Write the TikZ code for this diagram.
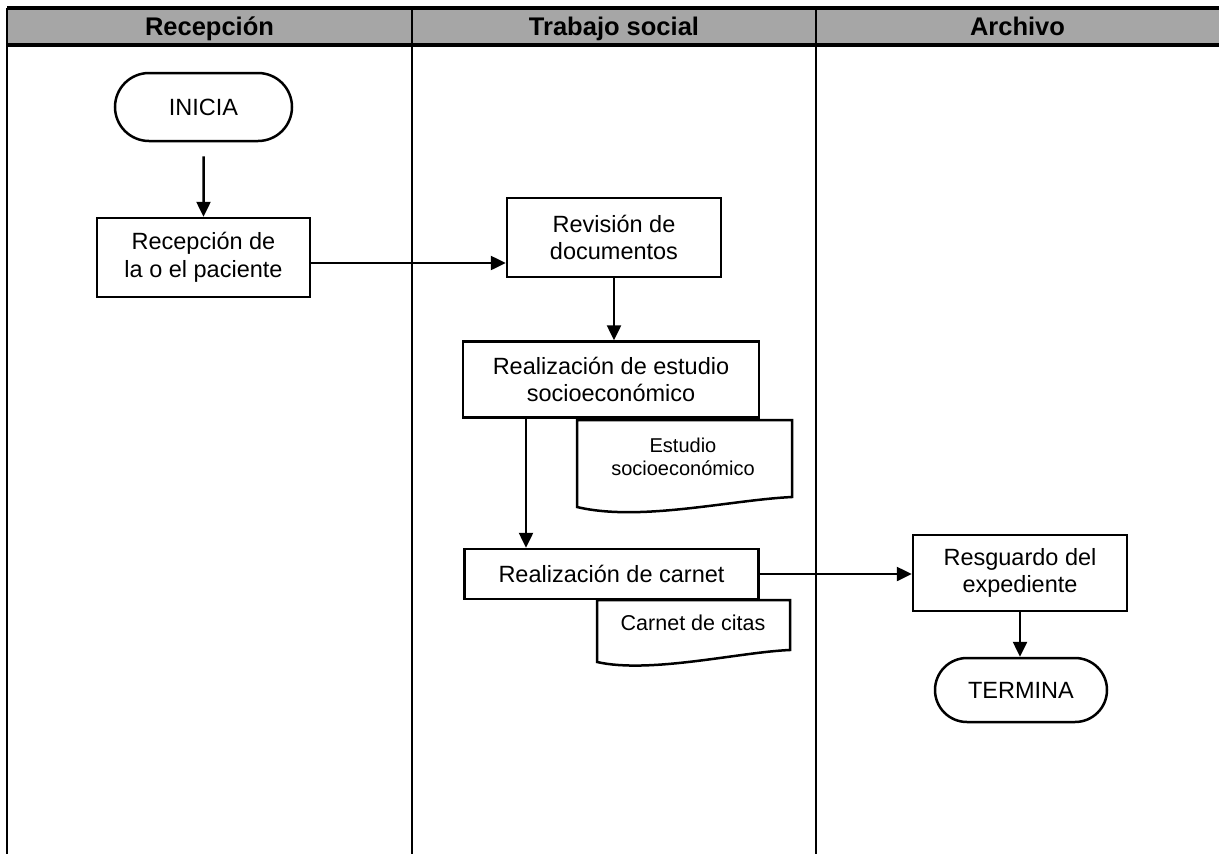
\documentclass[tikz,border=0pt]{standalone}
\usepackage{fontspec}
\setmainfont{Liberation Sans}
\usetikzlibrary{arrows.meta,shapes.misc}
\definecolor{headgray}{RGB}{166,166,166}
\begin{document}
\begin{tikzpicture}[x=1pt,y=-1pt,
  mainfont/.style={font=\fontsize{23.5}{27.5}\selectfont},
  stepbox/.style={draw, line width=2.5pt, fill=white, inner sep=0pt, align=center, mainfont},
  terminal/.style={draw, line width=2.5pt, fill=white, rounded rectangle, inner sep=0pt, mainfont},
  docshape/.style={draw, line width=2.5pt, fill=white},
  arr/.style={line width=2.5pt, -{Triangle[length=15pt,width=14pt]}},
  lane/.style={line width=2pt},
  headline/.style={line width=3.5pt},
  headtext/.style={anchor=base, font=\fontsize{25.5}{30}\bfseries\selectfont}]
\useasboundingbox (0,0) rectangle (1219,854);

% swimlane header
\fill[headgray] (7,8) rectangle (1219,45);
\draw[headline] (7,8) -- (1219,8);
\draw[headline] (7,45) -- (1219,45);
\draw[lane] (7,8) -- (7,854);
\draw[lane] (412,8) -- (412,854);
\draw[lane] (816,8) -- (816,854);
\node[headtext] (h1) at (209.5,35) {Recepción};
\node[headtext] (h2) at (614,35) {Trabajo social};
\node[headtext] (h3) at (1017.5,35) {Archivo};

% process steps
\node[terminal, minimum width=177pt, minimum height=68pt] (inicia) at (203.5,107) {INICIA};
\node[stepbox, minimum width=213pt, minimum height=79pt] (recep) at (203.5,257.5) {Recepción de\\la o el paciente};
\node[stepbox, minimum width=214pt, minimum height=79pt] (revis) at (614,237.5) {Revisión de\\documentos};
\node[stepbox, minimum width=296pt, minimum height=76pt] (estudio) at (611,379.5) {Realización de estudio\\socioeconómico};

% document: Estudio socioeconómico
\draw[docshape] (577,420) -- (792,420) -- (792,497)
  .. controls (730,500) and (640,522) .. (577,507) -- cycle;
\node[align=center, font=\fontsize{20}{23}\selectfont] (docest) at (683,457) {Estudio\\socioeconómico};

\node[stepbox, minimum width=294pt, minimum height=50pt] (carnet) at (611.5,574) {Realización de carnet};

% document: Carnet de citas
\draw[docshape] (597,600) -- (790,600) -- (790,650)
  .. controls (740,652) and (650,674) .. (597,662) -- cycle;
\node[font=\fontsize{21.5}{25}\selectfont] (doccar) at (693,623) {Carnet de citas};

\node[stepbox, minimum width=214pt, minimum height=76pt] (resg) at (1020,573) {Resguardo del\\expediente};
\node[terminal, minimum width=172pt, minimum height=64pt] (termina) at (1021,690) {TERMINA};

% connectors
\draw[arr, shorten <=14pt] (inicia) -- (inicia |- recep.north);
\draw[arr] ([yshift=-5.5pt]recep.east) -- ([yshift=-5.5pt]recep.east -| revis.west);
\draw[arr] (revis.south) -- (revis.south |- estudio.north);
\draw[arr] ([xshift=-85pt]estudio.south) -- ([xshift=-85pt]estudio.south |- carnet.north);
\draw[arr] (carnet.east) -- (carnet.east -| resg.west);
\draw[arr] (resg.south) -- (resg.south |- termina.north);
\end{tikzpicture}
\end{document}
